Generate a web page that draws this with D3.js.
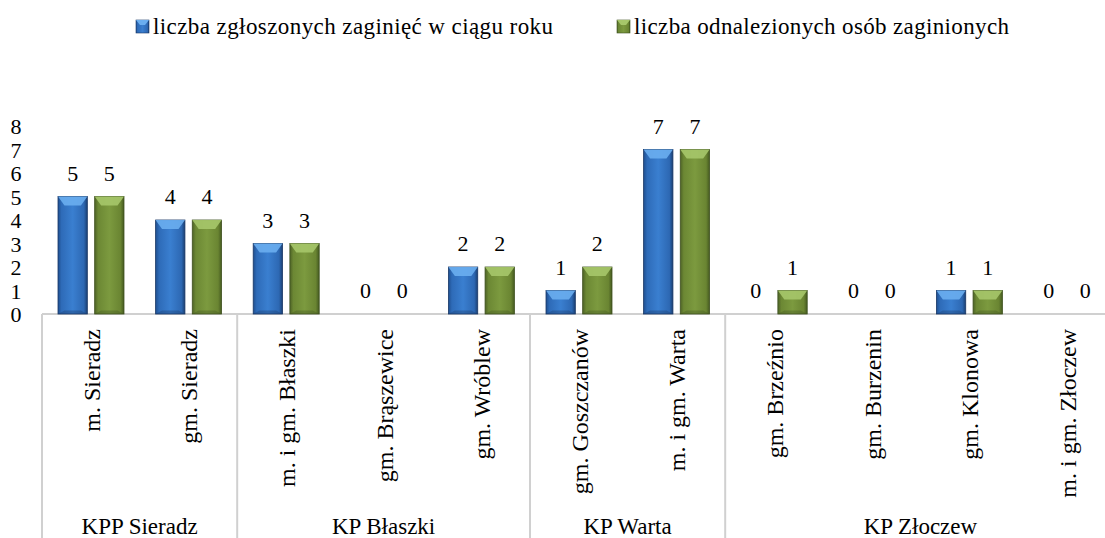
<!DOCTYPE html>
<html>
<head>
  <meta charset="UTF-8">
  <script src="https://d3js.org/d3.v7.min.js"></script>
  <style>
    body { margin: 0; background: #fff; }
  </style>
</head>
<body>
  <div id="chart"></div>
  <script>
    // data
    const groups = ['KPP Sieradz', 'KP Błaszki', 'KP Warta', 'KP Złoczew'];
    const categories = ['m. Sieradz', 'gm. Sieradz', 'm. i gm. Błaszki', 'gm. Brąszewice', 'gm. Wróblew',
      'gm. Goszczanów', 'm. i gm. Warta', 'gm. Brzeźnio', 'gm. Burzenin', 'gm. Klonowa', 'm. i gm. Złoczew'];
    const categoryGroup = [0, 0, 1, 1, 1, 2, 2, 3, 3, 3, 3];
    const seriesNames = ['liczba zgłoszonych zaginięć w ciągu roku', 'liczba odnalezionych osób zaginionych'];
    const reported = [5, 4, 3, 0, 2, 1, 7, 0, 0, 1, 0];
    const found = [5, 4, 3, 0, 2, 2, 7, 1, 0, 1, 0];
    const yTicks = [0, 1, 2, 3, 4, 5, 6, 7, 8];

    const W = 1105, H = 538;
    const left = 42, step = 97.6, base = 314;
    const FONT = 'Liberation Serif';

    const svg = d3.select('#chart').append('svg')
      .attr('width', W).attr('height', H);

    function htext(parent, x, y, str, size, anchor) {
      return parent.append('text')
        .attr('x', x).attr('y', y)
        .attr('font-family', FONT).attr('font-size', size)
        .attr('text-anchor', anchor || 'start').attr('fill', '#000')
        .text(str);
    }

    const defs = svg.append('defs');
    function grad(id, stops) {
      const g = defs.append('linearGradient').attr('id', id)
        .attr('x1', '0%').attr('x2', '100%').attr('y1', '0%').attr('y2', '0%');
      stops.forEach(s => g.append('stop').attr('offset', s[0]).attr('stop-color', s[1]));
    }
    grad('blue', [['0%', '#1f4f8f'], ['12%', '#2e6bb8'], ['50%', '#3a7fd0'], ['88%', '#2d68b3'], ['100%', '#1a3f72']]);
    grad('green', [['0%', '#4e6326'], ['12%', '#6c8834'], ['50%', '#7c9a3f'], ['88%', '#6a8532'], ['100%', '#455a20']]);
    const fills = ['url(#blue)', 'url(#green)'];
    const tops = ['#6aaef0', '#a6c66a'];
    const edges = ['#1a3866', '#3f5220'];

    const x0 = d3.scaleBand().domain(categories)
      .range([left, left + step * categories.length]).padding(0);
    const x1 = d3.scaleBand().domain([0, 1])
      .range([16, 82]).paddingInner(0.2).paddingOuter(0);
    const y = d3.scaleLinear().domain([0, 8]).range([base, base - 8 * 23.5]);

    // legend
    const legendX = [136, 617];
    const legendW = [400, 375];
    const legend = svg.append('g');
    seriesNames.forEach((name, i) => {
      legend.append('rect').attr('x', legendX[i]).attr('y', 20).attr('width', 13).attr('height', 13)
        .attr('fill', fills[i]).attr('stroke', edges[i]).attr('stroke-width', 0.6);
      legend.append('path')
        .attr('d', `M${legendX[i]},20 h13 l-4,5 h-5 z`).attr('fill', tops[i]);
      const t = htext(legend, legendX[i] + 17, 34, name, 23);
      if (t.node().getComputedTextLength() < legendW[i]) {
        t.attr('textLength', legendW[i]).attr('lengthAdjust', 'spacing');
      }
    });

    // y axis labels
    const yg = svg.append('g');
    yTicks.forEach(d => htext(yg, 16, y(d) + 8, d, 22, 'middle'));

    // axis and group separators
    const gridColor = '#d0d0d0';
    svg.append('line').attr('x1', left).attr('x2', W).attr('y1', base).attr('y2', base)
      .attr('stroke', gridColor).attr('stroke-width', 2);
    const bounds = [0];
    categoryGroup.forEach((g, i) => { if (i > 0 && g !== categoryGroup[i - 1]) bounds.push(i); });
    svg.append('g').selectAll('line').data(bounds).enter().append('line')
      .attr('x1', d => x0(categories[d])).attr('x2', d => x0(categories[d]))
      .attr('y1', base).attr('y2', H)
      .attr('stroke', gridColor).attr('stroke-width', 2);

    // bars
    const series = [reported, found];
    series.forEach((vals, s) => {
      const g = svg.append('g');
      vals.forEach((v, i) => {
        const bx = x0(categories[i]) + x1(s);
        const bw = x1.bandwidth();
        const by = y(v);
        const bh = base - by;
        if (v > 0) {
          g.append('rect').attr('x', bx).attr('y', by).attr('width', bw).attr('height', bh)
            .attr('fill', fills[s]).attr('stroke', edges[s]).attr('stroke-width', 0.8);
          const bev = Math.min(9, bh / 2);
          g.append('path')
            .attr('d', `M${bx},${by} h${bw} l${-bw * 0.22},${bev} h${-bw * 0.56} z`)
            .attr('fill', tops[s]).attr('opacity', 0.9);
          g.append('path')
            .attr('d', `M${bx},${base} h${bw} l${-bw * 0.22},${-bev * 0.4} h${-bw * 0.56} z`)
            .attr('fill', edges[s]).attr('opacity', 0.35);
        }
        htext(g, bx + bw / 2, by - 16, v, 22, 'middle');
      });
    });

    // category labels (rotated)
    svg.append('g').selectAll('text').data(categories).enter().append('text')
      .attr('transform', d => `translate(${x0(d) + step / 2 + 9},329) rotate(-90)`)
      .attr('font-family', FONT)
      .attr('text-anchor', 'end').attr('font-size', 24)
      .text(d => d);

    // group labels
    groups.forEach((name, gi) => {
      const idx = categoryGroup.map((g, i) => g === gi ? i : -1).filter(i => i >= 0);
      const a = x0(categories[idx[0]]);
      const b = x0(categories[idx[idx.length - 1]]) + step;
      htext(svg, (a + b) / 2, 534, name, 23, 'middle');
    });
  </script>
</body>
</html>
